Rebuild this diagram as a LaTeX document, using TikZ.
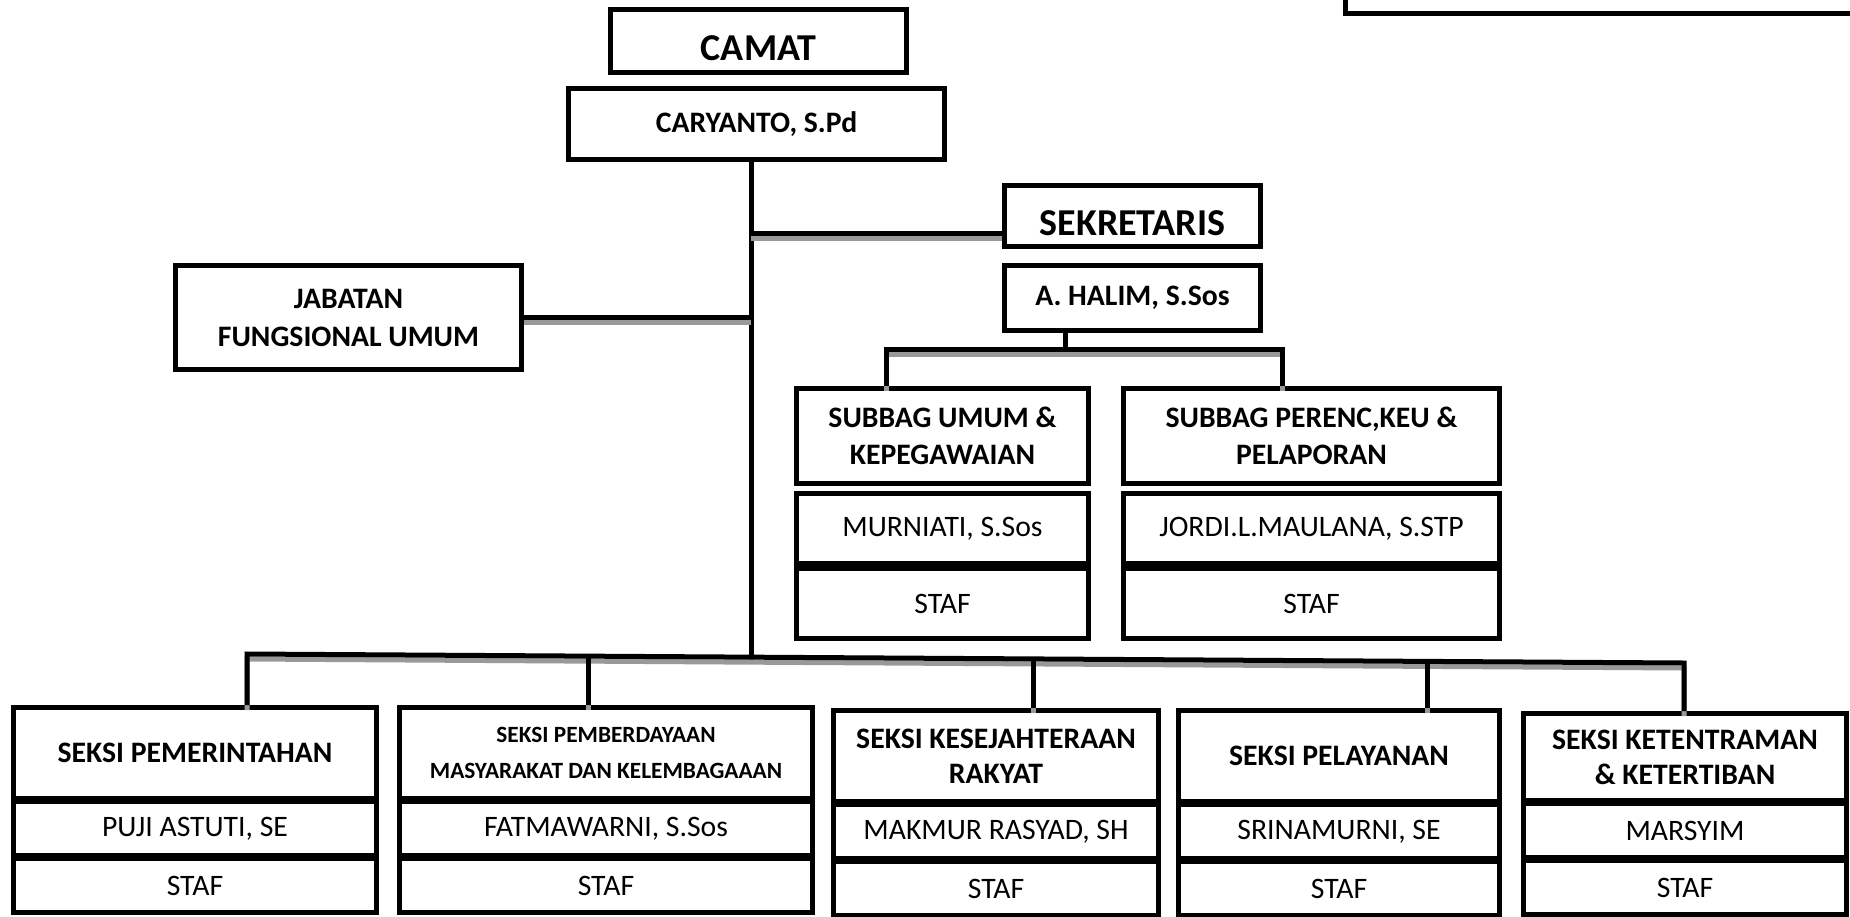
\documentclass[tikz,border=0pt]{standalone}
\usepackage{fontspec}
\setmainfont{Carlito}
\usetikzlibrary{positioning}

\tikzset{
  box/.style={draw, rectangle, line width=5pt, align=center, inner sep=2pt},
  bighead/.style={box, font=\fontsize{38}{44}\selectfont\bfseries, text height=38pt, text depth=0pt},
  head/.style={box, font=\fontsize{29.7}{37}\selectfont\bfseries},
  namebox/.style={box, font=\fontsize{29.7}{35}\selectfont},
  link/.style={line width=5pt, preaction={draw=black!40, line width=5pt, transform canvas={yshift=-5pt}}}
}

\begin{document}
\begin{tikzpicture}[x=1pt,y=-1pt]
\useasboundingbox (0,0) rectangle (1850,916);
\clip (0,0) rectangle (1850,916);

% top part
\draw [line width=5pt] (1345,-30) rectangle (1900,13);
\node [bighead, minimum width=296pt, minimum height=63pt] (camat) at (758.5,41) {CAMAT};
\node [head, minimum width=376pt, minimum height=71pt] (caryanto) at (756.5,124) {CARYANTO, S.Pd};
\node [bighead, minimum width=256pt, minimum height=61pt] (sek) at (1132.5,216) {SEKRETARIS};
\node [head, minimum width=256pt, minimum height=65pt] (halim) at (1132.5,298) {A. HALIM, S.Sos};
\node [head, minimum width=346pt, minimum height=104pt, font=\fontsize{29.7}{38}\selectfont\bfseries] (jab) at (348.5,317.5) {JABATAN\\FUNGSIONAL UMUM};

% subbag
\node [head, minimum width=292pt, minimum height=95pt] (umum) at (942.5,436) {SUBBAG UMUM \&\\KEPEGAWAIAN};
\node [namebox, minimum width=292pt, minimum height=70pt, below=5pt of umum] (umumn) {MURNIATI, S.Sos};
\node [namebox, minimum width=292pt, minimum height=70pt, below=0pt of umumn] (umums) {STAF};
\node [head, minimum width=376pt, minimum height=95pt] (perenc) at (1311.5,436) {SUBBAG PERENC,KEU \&\\PELAPORAN};
\node [namebox, minimum width=376pt, minimum height=70pt, below=5pt of perenc] (perencn) {JORDI.L.MAULANA, S.STP};
\node [namebox, minimum width=376pt, minimum height=70pt, below=0pt of perencn] (perencs) {STAF};

% seksi
\node [head, minimum width=363pt, minimum height=91pt] (s1) at (195,753) {SEKSI PEMERINTAHAN};
\node [head, minimum width=413pt, minimum height=91pt, font=\fontsize{23.3}{36}\selectfont\bfseries] (s2) at (606,753) {SEKSI PEMBERDAYAAN\\MASYARAKAT DAN KELEMBAGAAAN};
\node [head, minimum width=325pt, minimum height=91pt, font=\fontsize{29.7}{35}\selectfont\bfseries] (s3) at (996,756) {SEKSI KESEJAHTERAAN\\RAKYAT};
\node [head, minimum width=321pt, minimum height=91pt] (s4) at (1339,756) {SEKSI PELAYANAN};
\node [head, minimum width=323pt, minimum height=87pt, font=\fontsize{29.7}{35}\selectfont\bfseries] (s5) at (1685,757) {SEKSI KETENTRAMAN\\\& KETERTIBAN};

\node [namebox, minimum width=363pt, minimum height=54pt, below=-2pt of s1] (s1n) {PUJI ASTUTI, SE};
\node [namebox, minimum width=413pt, minimum height=54pt, below=-2pt of s2] (s2n) {FATMAWARNI, S.Sos};
\node [namebox, minimum width=325pt, minimum height=54pt, below=-2pt of s3] (s3n) {MAKMUR RASYAD, SH};
\node [namebox, minimum width=321pt, minimum height=54pt, below=-2pt of s4] (s4n) {SRINAMURNI, SE};
\node [namebox, minimum width=323pt, minimum height=54pt, below=-2pt of s5] (s5n) {MARSYIM};
\foreach \s/\w in {s1/363,s2/413,s3/325,s4/321,s5/323}
  \node [namebox, minimum width=\w pt, minimum height=54pt, below=-2pt of \s n] (\s s) {STAF};

% lines
\coordinate (trunk) at (751,657);
\coordinate (jsek) at (751,233.5);
\coordinate (hbar) at (1065.5,349.5);
\coordinate (hbarL) at (886,349.5);
\coordinate (hbarR) at (1282,349.5);
\coordinate (d1) at (247,654);
\coordinate (d2) at (588,656);
\coordinate (d3) at (1033,659);
\coordinate (d4) at (1427,661.5);
\coordinate (d5) at (1684,663);

\draw [link] (caryanto.south -| trunk) -- (trunk);
\draw [link] (jsek) -- (jsek -| sek.west);
\draw [link] (jab.east) -- (jab.east -| trunk);
\draw [link] (halim.south -| hbar) -- (hbar);
\draw [link] (hbarL |- umum.north) -- (hbarL) -- (hbarR) -- (hbarR |- perenc.north);
\draw [link] (d1 |- s1.north) -- (d1) -- (d5) -- (d5 |- s5.north);
\foreach \d/\s in {d2/s2,d3/s3,d4/s4}
  \draw [link] (\d) -- (\d |- \s.north);

\end{tikzpicture}
\end{document}
